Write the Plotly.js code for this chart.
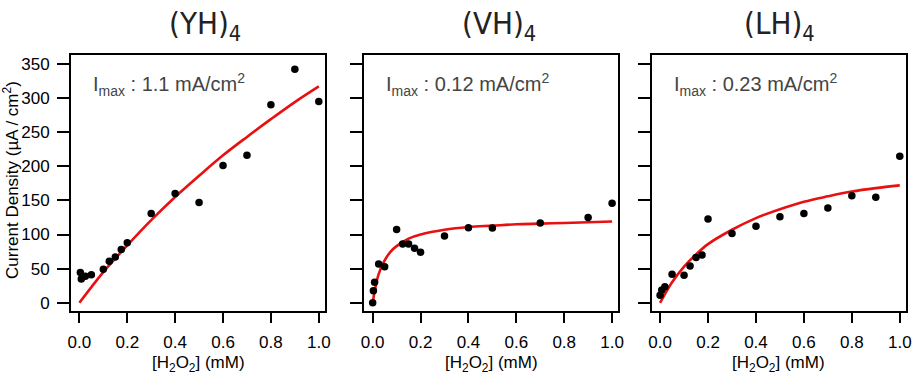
<!DOCTYPE html>
<html>
<head>
<meta charset="utf-8">
<script src="https://cdn.plot.ly/plotly-3.0.1.min.js"></script>
<style>html,body{margin:0;padding:0;background:#fff;}#chart{width:921px;height:374px;}</style>
</head>
<body>
<div id="chart"></div>
<script>
// ---- Data ----
const panelTitles = ['(YH)<sub>4</sub>', '(VH)<sub>4</sub>', '(LH)<sub>4</sub>'];
const imaxLabels = ['I<sub>max</sub> : 1.1 mA/cm<sup>2</sup>', 'I<sub>max</sub> : 0.12 mA/cm<sup>2</sup>', 'I<sub>max</sub> : 0.23 mA/cm<sup>2</sup>'];

// (YH)4 measured points
const yhX = [0.004, 0.008, 0.025, 0.05, 0.1, 0.125, 0.15, 0.175, 0.2, 0.3, 0.4, 0.5, 0.6, 0.7, 0.8, 0.9, 1.0];
const yhY = [44.5, 35, 39, 41, 49, 61, 67, 78, 88, 131, 160, 147, 201, 216, 290, 342, 295];
// (YH)4 fit curve
const yhFitX = [0, 0.1, 0.2, 0.3, 0.4, 0.5, 0.6, 0.7, 0.8, 0.9, 1.0];
const yhFitY = [0, 45, 84, 121, 155, 186, 216, 243, 269, 294, 317];

// (VH)4 measured points
const vhX = [0, 0.003, 0.008, 0.025, 0.05, 0.1, 0.125, 0.15, 0.175, 0.2, 0.3, 0.4, 0.5, 0.7, 0.9, 1.0];
const vhY = [0, 17.6, 30, 57, 53, 107.5, 86, 86, 80, 74, 98, 110, 109.5, 117, 125, 146];
// (VH)4 fit curve
const vhFitX = [0, 0.01, 0.025, 0.05, 0.075, 0.1, 0.15, 0.2, 0.3, 0.4, 0.5, 0.6, 0.7, 0.8, 0.9, 1.0];
const vhFitY = [0, 20, 42, 62, 75, 83, 94, 100, 107, 111, 113, 115, 116, 117, 118, 119];

// (LH)4 measured points
const lhX = [0, 0.007, 0.02, 0.05, 0.1, 0.125, 0.15, 0.175, 0.2, 0.3, 0.4, 0.5, 0.6, 0.7, 0.8, 0.9, 1.0];
const lhY = [11, 18.6, 23.5, 42, 40.5, 54, 66.5, 70, 122.7, 101.7, 112, 126, 131, 139, 157, 154.5, 214.6];
// (LH)4 fit curve
const lhFitX = [0, 0.05, 0.1, 0.15, 0.2, 0.3, 0.4, 0.5, 0.6, 0.7, 0.8, 0.9, 1.0];
const lhFitY = [0, 30, 53, 71, 86, 107, 124, 137, 148, 156, 163, 168, 172];

const xTickVals = [0, 0.2, 0.4, 0.6, 0.8, 1.0];
const xTickText = ['0.0', '0.2', '0.4', '0.6', '0.8', '1.0'];
const yTickVals = [0, 50, 100, 150, 200, 250, 300, 350];
const xTitle = '[H<sub>2</sub>O<sub>2</sub>] (mM)';
const yTitle = 'Current Density (µA / cm<sup>2</sup>)';

// ---- Build ----
const FONT = 'Liberation Sans, Arial, sans-serif';
const pts = [[yhX, yhY], [vhX, vhY], [lhX, lhY]];
const fits = [[yhFitX, yhFitY], [vhFitX, vhFitY], [lhFitX, lhFitY]];
const traces = [];
for (let i = 0; i < 3; i++) {
  const xa = i === 0 ? 'x' : 'x' + (i + 1);
  const ya = i === 0 ? 'y' : 'y' + (i + 1);
  traces.push({x: fits[i][0], y: fits[i][1], xaxis: xa, yaxis: ya, mode: 'lines',
    line: {color: 'rgb(232,16,16)', width: 2.6, shape: 'spline', smoothing: 1}, showlegend: false, hoverinfo: 'skip'});
  traces.push({x: pts[i][0], y: pts[i][1], xaxis: xa, yaxis: ya, mode: 'markers',
    marker: {color: '#000', size: 7.5}, showlegend: false});
}

const domains = [[71/921, 325/921], [364.3/921, 618.3/921], [651.7/921, 906/921]];
const yDom = [1 - 311/374, 1 - 55/374];

function xAxis(i) {
  return {domain: domains[i], range: [-0.035, 1.026], anchor: i === 0 ? 'y' : 'y' + (i + 1),
    showline: true, mirror: true, linecolor: '#000', linewidth: 2,
    ticks: 'outside', ticklen: 10, tickwidth: 2, tickcolor: '#000',
    tickvals: xTickVals, ticktext: xTickText, showgrid: false, zeroline: false,
    ticklabelstandoff: 5,
    tickfont: {family: FONT, size: 17, color: '#000'}};
}
function yAxis(i) {
  return {domain: yDom, range: [-12, 363], anchor: i === 0 ? 'x' : 'x' + (i + 1),
    showline: true, mirror: true, linecolor: '#000', linewidth: 2,
    ticks: 'outside', ticklen: 12, tickwidth: 2, tickcolor: '#000',
    tickvals: yTickVals, showticklabels: i === 0, showgrid: false, zeroline: false,
    ticklabelstandoff: 4,
    tickfont: {family: FONT, size: 17, color: '#000'}};
}

const annotations = [];
const titleCenters = [205/921, 499/921, 779/921];
for (let i = 0; i < 3; i++) {
  annotations.push({text: panelTitles[i], xref: 'paper', yref: 'paper', x: titleCenters[i], y: 1 - 25/374,
    xanchor: 'center', yanchor: 'middle', showarrow: false,
    font: {family: 'Liberation Sans Narrow, DejaVu Sans Condensed, ' + FONT, size: 31, color: '#222'}});
  const xr = i === 0 ? 'x domain' : 'x' + (i + 1) + ' domain';
  const yr = i === 0 ? 'y domain' : 'y' + (i + 1) + ' domain';
  annotations.push({text: imaxLabels[i], xref: xr, yref: yr, x: 20/254, y: 0.885,
    xanchor: 'left', yanchor: 'middle', showarrow: false,
    font: {family: FONT, size: 20, color: '#444'}});
  annotations.push({text: xTitle, xref: xr, yref: 'paper', x: 0.5, y: 1 - 364/374,
    xanchor: 'center', yanchor: 'middle', showarrow: false,
    font: {family: FONT, size: 17, color: '#000'}});
}
annotations.push({text: yTitle, xref: 'paper', yref: 'paper', x: 11/921, y: 1 - 180/374,
  xanchor: 'center', yanchor: 'middle', textangle: -90, showarrow: false,
  font: {family: FONT, size: 17, color: '#000'}});

const layout = {
  width: 921, height: 374, margin: {l: 0, r: 0, t: 0, b: 0},
  paper_bgcolor: '#fff', plot_bgcolor: '#fff',
  xaxis: xAxis(0), xaxis2: xAxis(1), xaxis3: xAxis(2),
  yaxis: yAxis(0), yaxis2: yAxis(1), yaxis3: yAxis(2),
  annotations: annotations
};
Plotly.newPlot('chart', traces, layout, {displayModeBar: false, staticPlot: true});
</script>
</body>
</html>
